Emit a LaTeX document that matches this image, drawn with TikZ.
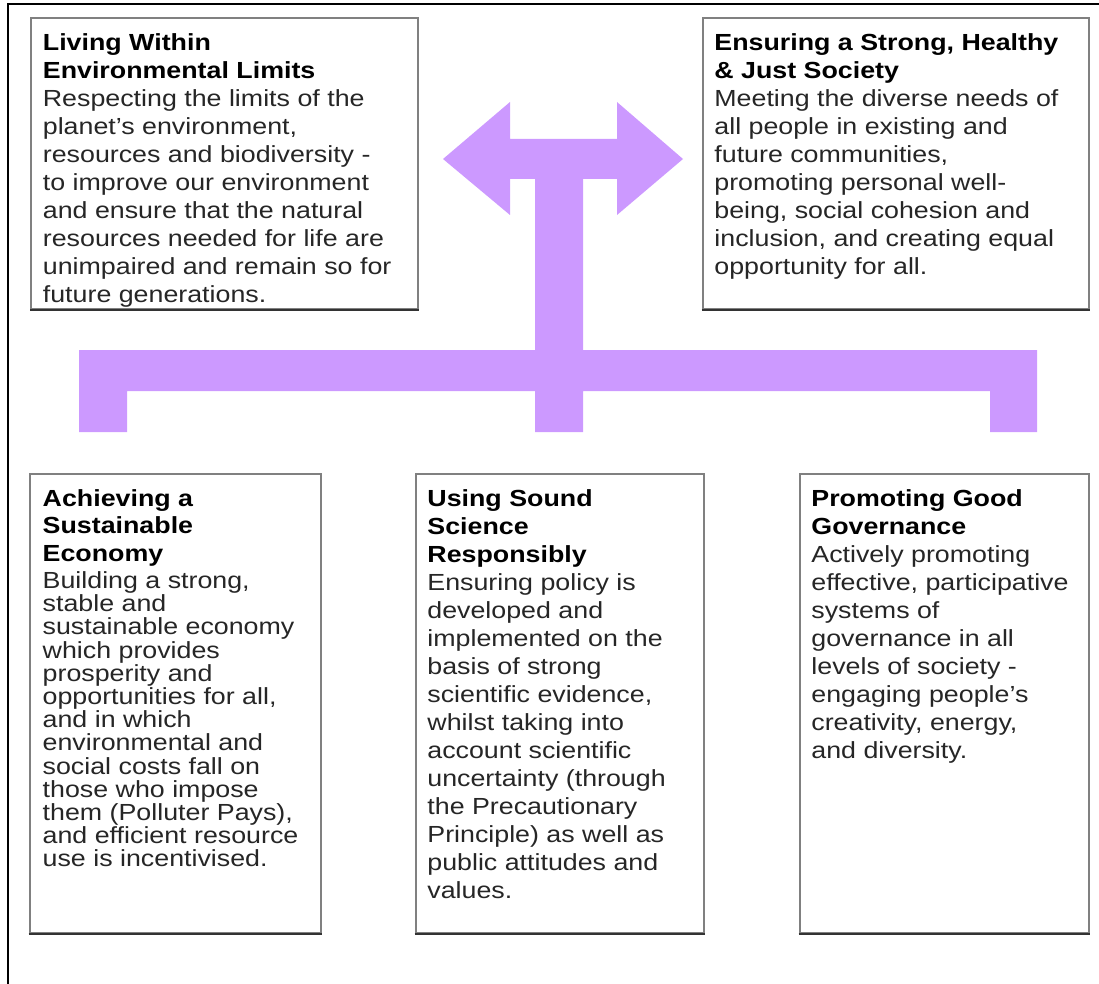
\documentclass[tikz,border=0pt]{standalone}
\usepackage{fontspec}
\setmainfont{Liberation Sans}[FakeStretch=1.15]
\usetikzlibrary{calc}
\definecolor{lilac}{RGB}{204,153,255}
\colorlet{boxedge}{black!50}
\colorlet{boxshade}{black!80}

\begin{document}
\begin{tikzpicture}[x=1pt, y=-1pt,
    principle/.style={draw=boxedge, fill=white, line width=2.2pt, anchor=north west, inner sep=0pt},
    head text/.style={anchor=base west, align=left, inner sep=0pt, font=\fontsize{23.3}{28}\selectfont\bfseries},
    body text/.style={anchor=base west, align=left, inner sep=0pt, text=black!85, font=\fontsize{23.3}{28}\selectfont},
    tight/.style={font=\fontsize{23.3}{23.2}\selectfont}
  ]
  \def\padx{12.7}
  \def\pady{61.4}
  \useasboundingbox (0,0) rectangle (1099,984);
  \draw [line width=2pt] (8,984) -- (8,4) -- (1099,4);

  \fill [lilac] (443,159) -- (510,102) -- (510,139) -- (617,139) -- (617,102) -- (683,159)
    -- (617,215) -- (617,179) -- (583,179) -- (583,350) -- (1037,350) -- (1037,432)
    -- (990,432) -- (990,391) -- (583,391) -- (583,432) -- (535,432) -- (535,391)
    -- (127,391) -- (127,432) -- (79,432) -- (79,350) -- (535,350) -- (535,179)
    -- (510,179) -- (510,215) -- cycle;

  \node [principle, minimum width=387pt, minimum height=291pt] (env) at (30,17) {};
  \node [principle, minimum width=386pt, minimum height=291pt] (soc) at (701.5,17) {};
  \node [principle, minimum width=291pt, minimum height=459pt] (eco) at (28.5,473) {};
  \node [principle, minimum width=288pt, minimum height=459pt] (sci) at (414.5,473) {};
  \node [principle, minimum width=289pt, minimum height=459pt] (gov) at (798.5,473) {};
  \foreach \b in {env,soc,eco,sci,gov}
    \draw [boxshade, line width=2.2pt] (\b.south west) -- (\b.south east);

  % base anchors sit on the last line of each text
  \node [head text] (env head) at ($(env.north west)+(\padx,\pady)$) {Living Within\\Environmental Limits};
  \node [body text] (env body) at ($(env head.base west)+(0,224)$) {Respecting the limits of the\\planet's environment,\\resources and biodiversity -\\to improve our environment\\and ensure that the natural\\resources needed for life are\\unimpaired and remain so for\\future generations.};

  \node [head text] (soc head) at ($(soc.north west)+(\padx,\pady)$) {Ensuring a Strong, Healthy\\\& Just Society};
  \node [body text] (soc body) at ($(soc head.base west)+(0,196)$) {Meeting the diverse needs of\\all people in existing and\\future communities,\\promoting personal well-\\being, social cohesion and\\inclusion, and creating equal\\opportunity for all.};

  \node [head text, font=\fontsize{23.3}{27.5}\selectfont\bfseries] (eco head) at ($(eco.north west)+(14,88.4)$) {Achieving a\\Sustainable\\Economy};
  \node [body text, tight] (eco body) at ($(eco head.base west)+(0,305.4)$) {Building a strong,\\stable and\\sustainable economy\\which provides\\prosperity and\\opportunities for all,\\and in which\\environmental and\\social costs fall on\\those who impose\\them (Polluter Pays),\\and efficient resource\\use is incentivised.};

  \node [head text] (sci head) at ($(sci.north west)+(\padx,89.4)$) {Using Sound\\Science\\Responsibly};
  \node [body text] (sci body) at ($(sci head.base west)+(0,336)$) {Ensuring policy is\\developed and\\implemented on the\\basis of strong\\scientific evidence,\\whilst taking into\\account scientific\\uncertainty (through\\the Precautionary\\Principle) as well as\\public attitudes and\\values.};

  \node [head text] (gov head) at ($(gov.north west)+(\padx,\pady)$) {Promoting Good\\Governance};
  \node [body text] (gov body) at ($(gov head.base west)+(0,224)$) {Actively promoting\\effective, participative\\systems of\\governance in all\\levels of society -\\engaging people's\\creativity, energy,\\and diversity.};
\end{tikzpicture}
\end{document}
